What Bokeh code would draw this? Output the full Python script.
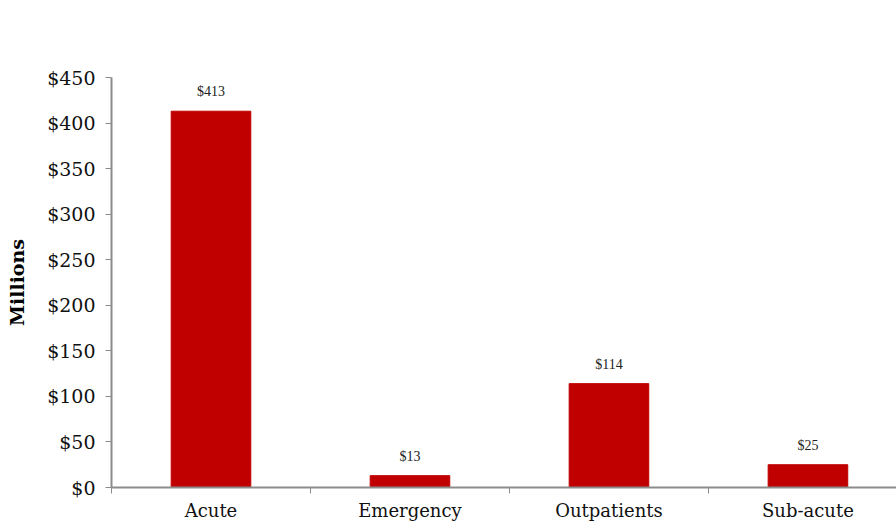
from bokeh.plotting import figure
from bokeh.models import ColumnDataSource, Range1d, FixedTicker, LabelSet, Label, NumeralTickFormatter
from bokeh.embed import file_html
from bokeh.resources import INLINE

categories = ["Acute", "Emergency", "Outpatients", "Sub-acute"]
costs = [413, 13, 114, 25]
y_ticks = [0, 50, 100, 150, 200, 250, 300, 350, 400, 450]
title_text = "Total Cost ($m) per Product Group"

xpos = [i + 0.5 for i in range(len(categories))]
labels = ["$" + str(v) for v in costs]
src = ColumnDataSource(dict(x=xpos, top=costs, lab=labels))

FONT = "DejaVu Serif"

p = figure(width=896, height=523, output_backend="svg", toolbar_location=None,
           x_range=Range1d(0, 3.945), y_range=Range1d(0, 450),
           min_border_left=111, min_border_right=0, min_border_bottom=36, min_border_top=77)

p.vbar(x="x", top="top", width=0.4, source=src, color="#C00000")
p.add_layout(LabelSet(x="x", y="top", text="lab", source=src, text_align="center",
                      y_offset=12, text_font=FONT, text_font_size="14px", text_color="#222222"))

# chart title, centred over the whole figure, placed in the top margin
p.add_layout(Label(x=1.729, y=450, y_offset=47, text=title_text, text_align="center",
                   text_baseline="middle", text_font=FONT, text_font_size="24px",
                   text_font_style="bold", text_color="#000000"))

p.xgrid.visible = False
p.ygrid.visible = False
p.outline_line_color = None

xa = p.xaxis[0]
xa.ticker = FixedTicker(ticks=xpos, minor_ticks=[0, 1, 2, 3])
xa.major_label_overrides = {x: c for x, c in zip(xpos, categories)}
xa.major_tick_out = 0
xa.major_tick_in = 0
xa.minor_tick_out = 6
xa.minor_tick_in = 0
xa.minor_tick_line_color = "#8c8c8c"
xa.axis_line_color = "#8c8c8c"
xa.axis_line_width = 2
xa.major_label_text_font = FONT
xa.major_label_text_font_size = "18px"
xa.major_label_text_color = "#111111"
xa.major_label_standoff = 6

ya = p.yaxis[0]
ya.ticker = FixedTicker(ticks=y_ticks)
ya.formatter = NumeralTickFormatter(format="$0")
ya.minor_tick_line_color = None
ya.major_tick_out = 6
ya.major_tick_in = 0
ya.major_tick_line_color = "#8c8c8c"
ya.axis_line_color = "#8c8c8c"
ya.axis_line_width = 2
ya.major_label_text_font = FONT
ya.major_label_text_font_size = "19px"
ya.major_label_text_color = "#111111"
ya.major_label_standoff = 10
ya.axis_label = "Millions"
ya.axis_label_text_font = FONT
ya.axis_label_text_font_size = "19px"
ya.axis_label_text_font_style = "bold"
ya.axis_label_text_color = "#000000"
ya.axis_label_standoff = 16

open("out.html", "w").write(file_html(p, INLINE))
